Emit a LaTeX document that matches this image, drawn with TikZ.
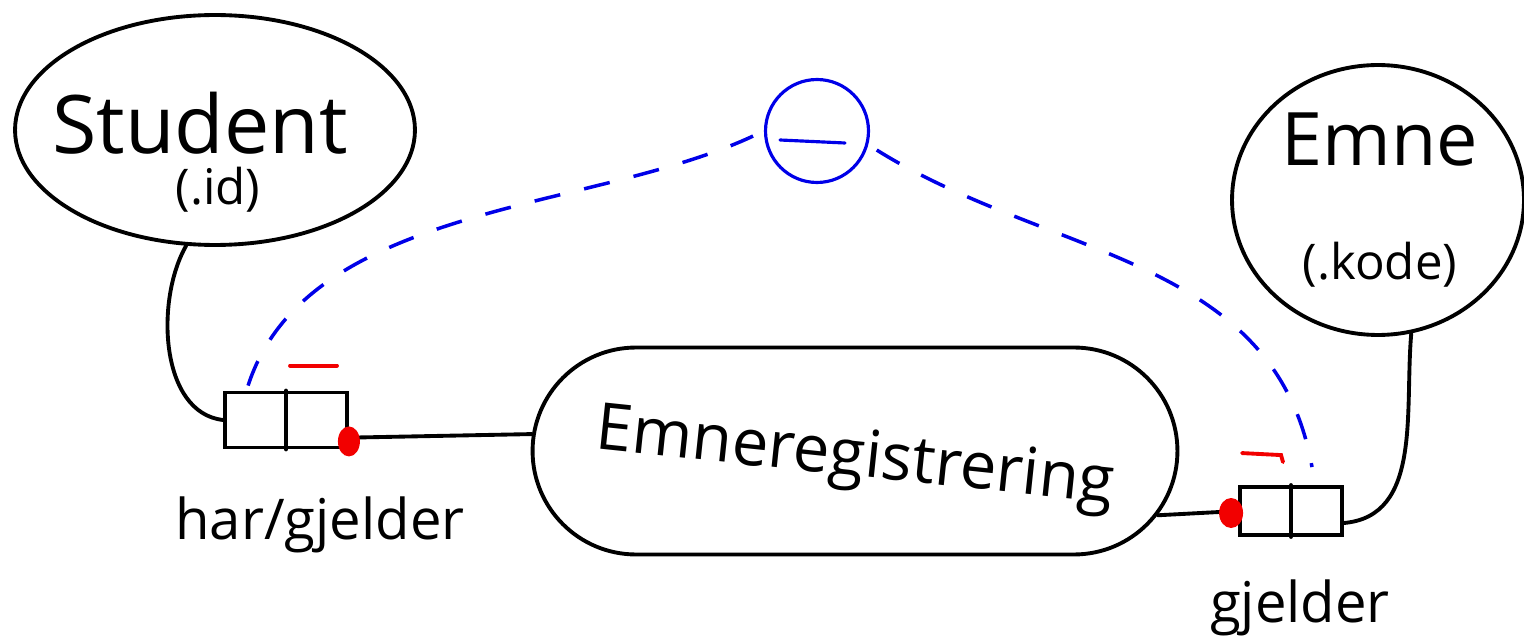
\documentclass[tikz,border=0pt]{standalone}
\usepackage{fontspec}
\setmainfont{Open Sans}
\usetikzlibrary{positioning,shapes.geometric,shapes.misc,calc}
\definecolor{ink}{HTML}{000000}
\definecolor{redink}{HTML}{F20000}
\definecolor{blueink}{HTML}{0000E8}

\begin{document}
\begin{tikzpicture}[x=0.02cm, y=0.02cm,
  entity/.style={draw=ink, ellipse, line width=2.2pt, inner sep=0pt},
  regbox/.style={draw=ink, rounded rectangle, line width=2.2pt, inner sep=0pt, minimum width=12.9cm, minimum height=4.14cm},
  relbox/.style={draw=ink, line width=2.2pt, inner sep=0pt},
  link/.style={draw=ink, line width=2.2pt, line cap=round},
  reddot/.style={fill=redink, draw=none},
  redbar/.style={draw=redink, line width=2.2pt, line cap=round},
  dep/.style={draw=blueink, line width=2pt, dash pattern=on 15pt off 14pt},
  lbl/.style={font=\fontsize{#1}{#1}\selectfont, inner sep=0pt}
]
\useasboundingbox (0,0) rectangle (1524,643);

% entities
\node[entity, minimum width=8cm, minimum height=4.6cm] (student) at (215,513) {};
\node[entity, minimum width=5.84cm, minimum height=5.4cm] (emne) at (1378,443) {};
\node[regbox] (reg) at (855,192) {};

\node[lbl=46] (studentname) at (200,520) {Student};
\node[lbl=28] (studentkey) at (218,453) {(.id)};
\node[lbl=42] (emnename) at (1380,503) {Emne};
\node[lbl=28] (emnekey) at (1380,378) {(.kode)};
\node[lbl=37, rotate=-6] (regname) at (855,183) {Emneregistrering};

% relations
\node[relbox, minimum width=2.44cm, minimum height=1.1cm] (lrel) at (286,223) {};
\draw[link] (lrel.north) -- (lrel.south);
\node[relbox, minimum width=2.04cm, minimum height=0.96cm] (rrel) at (1291,132) {};
\draw[link] (rrel.north) -- (rrel.south);

\node[lbl=32] (lrelname) at (320,118) {har/gjelder};
\node[lbl=32] (rrelname) at (1300,35) {gjelder};

% connectors
\draw[link] (student.256) .. controls (155,343) and (160,230) .. (lrel.west);
\draw[link] ($(lrel.south east)!0.2!(lrel.north east)$) -- (reg.177);
\draw[link] (reg.-12) -- (rrel.west);
\draw[link] ($(rrel.east)+(0,-12)$) to[out=5, in=-95] (emne.284);

% cardinality marks
\fill[reddot] ($(lrel.south east)+(0,8)$) ellipse [x radius=11, y radius=15];
\fill[reddot] ($(rrel.west)+(-7,-2)$) ellipse [x radius=12, y radius=15];
\draw[redbar] ($(lrel.north)+(4,25)$) -- ++(47,0);
\draw[redbar] ($(rrel.north)+(-49,32)$) -- ++(39,-2) -- ++(2,-7);

% dependency
\node[draw=blueink, circle, line width=1.8pt, minimum size=2.06cm, inner sep=0pt] (excl) at (817,512) {};
\draw[blueink, line width=1.8pt, line cap=round] ($(excl.center)+(-37,-9)$) -- ($(excl.center)+(28,-12)$);
\draw[dep, shorten >=0.24cm] ($(lrel.north west)+(25,5)$) to[out=72, in=-155, looseness=0.85] (excl.west);
\draw[dep, shorten <=0.2cm] (excl.-15) to[out=-32, in=100] ($(rrel.north)+(21,18)$);
\end{tikzpicture}
\end{document}
